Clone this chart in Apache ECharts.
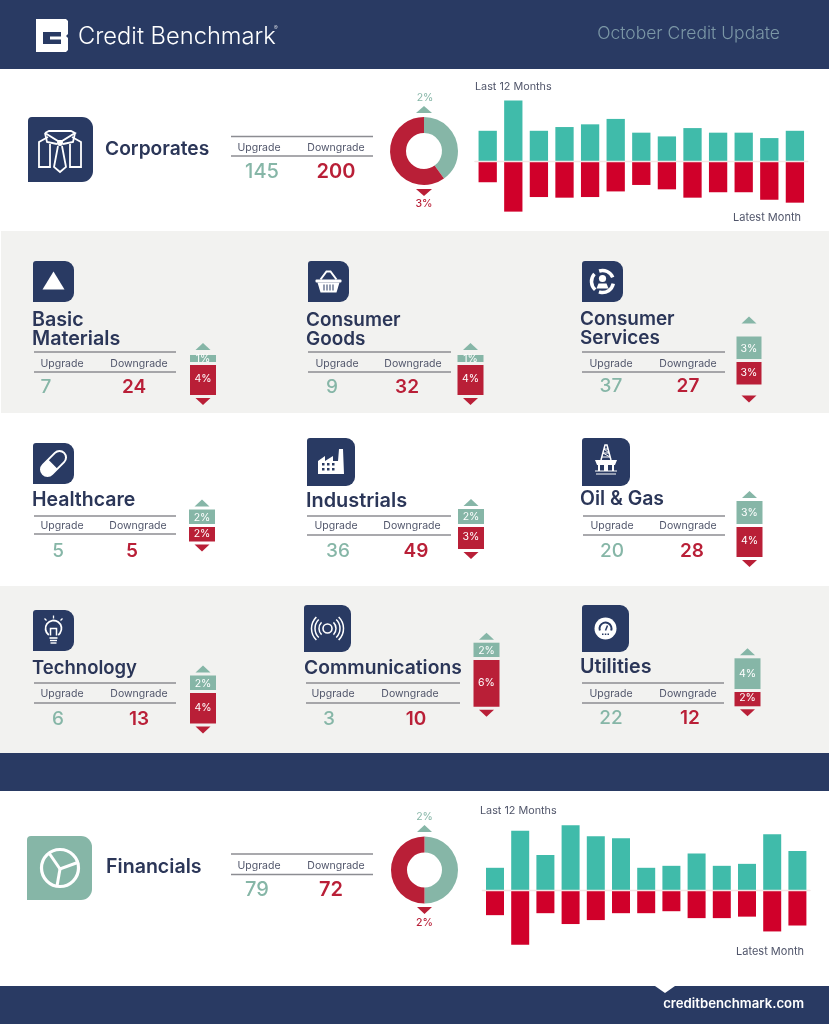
<!DOCTYPE html>
<html>
<head>
<meta charset="utf-8">
<style>
  html, body { margin: 0; padding: 0; background: #fff; }
  #main { width: 829px; height: 1024px; }
</style>
<script src="https://cdn.jsdelivr.net/npm/echarts@6/dist/echarts.min.js"></script>
</head>
<body>
<div id="main"></div>
<script>
// last 13 months, counts per month
var corpUp = [145, 290, 145, 163, 176, 202, 136, 118, 158, 136, 136, 110, 145];
var corpDown = [102, 243, 173, 176, 173, 146, 115, 136, 176, 150, 150, 186, 200];
var finUp = [45, 120, 71, 131, 109, 105, 45, 49, 74, 49, 53, 113, 79];
var finDown = [51, 111, 47, 69, 61, 47, 47, 43, 57, 57, 54, 84, 72];
var monthIdx = ['1', '2', '3', '4', '5', '6', '7', '8', '9', '10', '11', '12', '13'];

// donuts: [upgrade %, downgrade %]
var corpPct = [2, 3];
var finPct = [2, 2];
var corpCounts = [145, 200];
var finCounts = [79, 72];

var sectorNames = [['Basic', 'Materials'], ['Consumer', 'Goods'], ['Consumer', 'Services'],
  ['Healthcare'], ['Industrials'], ['Oil & Gas'],
  ['Technology'], ['Communications'], ['Utilities']];
var sectorUpCount = [7, 9, 37, 5, 36, 20, 6, 3, 22];
var sectorDownCount = [24, 32, 27, 5, 49, 28, 13, 10, 12];
var sectorUpPct = [1, 1, 3, 2, 2, 3, 2, 2, 4];
var sectorDownPct = [4, 4, 3, 2, 3, 4, 4, 6, 2];

var NAVY = '#293a63', TEAL = '#86b6a7', RED = '#b91f37', BAR_TEAL = '#40bbaa', BAR_RED = '#d0002a';
var GRAY = '#f2f2f0', RULE = '#8c8d92', INK = '#2b3658', LABEL = '#50556a';
var FONT = 'Inter';

// layout of each sector panel
var sectorLayout = [
  { icon: [33, 261, 41], title: [32, 319.5, 338.5], ts: 19.7, rules: [352, 372, 34, 176], lab: [62, 139, 362.5], val: [46, 134, 386], bar: [203, 363, 26], gaps: [5, 3], bg: GRAY, draw: iconTriangle },
  { icon: [308, 261, 41], title: [306, 319.5, 338.5], ts: 18.9, rules: [352, 372, 308, 451], lab: [337, 413, 362.5], val: [332, 407, 386], bar: [470.5, 363, 26], gaps: [5, 3], bg: GRAY, draw: iconBasket },
  { icon: [582, 261, 41], title: [580, 318.5, 337.5], ts: 18.9, rules: [352, 372, 582, 725], lab: [611, 688, 362.5], val: [611, 688, 385], bar: [749, 360.5, 25], gaps: [13, 11], bg: GRAY, draw: iconServices },
  { icon: [33, 443, 41], title: [32, 499.5], ts: 19.5, rules: [516, 534, 34, 176], lab: [62, 138, 525], val: [58, 132, 550], bar: [202, 525.5, 26], gaps: [3, 3], bg: '#fff', draw: iconPill },
  { icon: [307, 438, 48], title: [306, 500.5], ts: 19.9, rules: [516, 535, 307, 451], lab: [336, 412, 525], val: [338, 416, 550], bar: [471, 525, 26], gaps: [3, 3], bg: '#fff', draw: iconFactory },
  { icon: [582, 438, 48], title: [580, 498.5], ts: 19.4, rules: [516, 535, 583, 725], lab: [612, 688, 525], val: [612, 692, 550], bar: [749.5, 525, 26], gaps: [3, 3], bg: '#fff', draw: iconRig },
  { icon: [33, 610, 41], title: [32, 667.5], ts: 18.5, rules: [683, 703, 34, 176], lab: [62, 139, 693], val: [58, 139, 718], bar: [203, 691.5, 26], gaps: [3, 3], bg: GRAY, draw: iconBulb },
  { icon: [304, 605, 47], title: [304, 667.5], ts: 19.3, rules: [683, 703, 306, 460], lab: [333, 410, 693], val: [329, 416, 718], bar: [486.5, 658.7, 26], gaps: [3, 3], bg: GRAY, draw: iconSignal },
  { icon: [582, 605, 47], title: [580, 666.5], ts: 19.7, rules: [683, 703, 582, 724], lab: [611, 688, 693], val: [611, 690, 717], bar: [747.5, 690.3, 26], gaps: [3, 3], bg: GRAY, draw: iconGauge }
];

function txt(x, y, text, size, fill, weight, align) {
  return {
    type: 'text',
    style: {
      text: text, x: x, y: y + 1, fill: fill, fontFamily: FONT, fontSize: size,
      fontWeight: weight || 400, textAlign: align || 'left', textVerticalAlign: 'middle'
    }
  };
}
function box(x, y, w, h, fill, r) {
  return { type: 'rect', shape: { x: x, y: y, width: w, height: h, r: r || 0 }, style: { fill: fill } };
}
function poly(pts, fill) {
  return { type: 'polygon', shape: { points: pts }, style: { fill: fill || '#fff' } };
}
function strokeLine(pts, lw, color) {
  return { type: 'polyline', shape: { points: pts }, style: { stroke: color || '#fff', lineWidth: lw, fill: null } };
}
function disc(cx, cy, r, fill) {
  return { type: 'circle', shape: { cx: cx, cy: cy, r: r }, style: { fill: fill || '#fff' } };
}
function ring(cx, cy, r, lw, color) {
  return { type: 'circle', shape: { cx: cx, cy: cy, r: r }, style: { stroke: color || '#fff', lineWidth: lw, fill: null } };
}
function arc(cx, cy, r, a0, a1, lw, color) {
  return { type: 'arc', shape: { cx: cx, cy: cy, r: r, startAngle: a0, endAngle: a1, clockwise: true }, style: { stroke: color || '#fff', lineWidth: lw, fill: null } };
}
function group(x, y, children, rotation) {
  return { type: 'group', x: x, y: y, rotation: rotation || 0, children: children };
}

function iconShirt() {
  return [
    strokeLine([[-12, -13], [-21, -8], [-21, 17], [-10, 17], [-10, -6]], 1.8),
    strokeLine([[12, -13], [21, -8], [21, 17], [10, 17], [10, -6]], 1.8),
    strokeLine([[-15, -17], [-11, -19], [11, -19], [15, -17], [2, -9], [-2, -9], [-15, -17]], 1.8),
    strokeLine([[-15, -17], [-13, -8], [-3, -6]], 1.8),
    strokeLine([[15, -17], [13, -8], [3, -6]], 1.8),
    disc(0, -7, 3),
    strokeLine([[-2, -4], [-6, 17], [0, 22], [6, 17], [2, -4]], 1.8)
  ];
}
function iconTriangle() {
  return [poly([[0, -10], [11, 8], [-11, 8]])];
}
function iconBasket() {
  var bars = [];
  [-5, -2, 1, 4].forEach(function (x) { bars.push(box(x, 3, 1, 6, NAVY)); });
  return [
    strokeLine([[-8, -2], [-2, -10], [2, -10], [8, -2]], 2),
    box(-13, -2, 26, 3, '#fff', 1),
    poly([[-11, 1], [11, 1], [8, 11], [-8, 11]])
  ].concat(bars);
}
function iconServices() {
  return [
    arc(0, 0, 11, 0.2, 1.9, 3.5),
    arc(0, 0, 11, 2.3, 3.9, 3.5),
    arc(0, 0, 11, 4.4, 5.9, 3.5),
    disc(0, -3, 3.6),
    poly([[-6, 7], [-4, 2], [4, 2], [6, 7]])
  ];
}
function iconPill() {
  return [group(0, 0, [
    box(-15, -6.5, 30, 13, NAVY, 6.5),
    { type: 'rect', shape: { x: -15, y: -6.5, width: 30, height: 13, r: 6.5 }, style: { stroke: '#fff', lineWidth: 2, fill: null } },
    box(-15, -6.5, 14, 13, '#fff', [6.5, 0, 0, 6.5])
  ], Math.PI / 4)];
}
function iconFactory() {
  var w = [];
  [-9, -4, 1].forEach(function (x) {
    w.push(box(x, 1, 2.5, 2.5, NAVY));
    w.push(box(x, 6, 2.5, 2.5, NAVY));
  });
  return [poly([[-13, 12], [-13, -1], [-6, -6], [-6, -1], [2, -6], [2, -1], [7, -1], [8, -13], [12, -13], [13, 12]])].concat(w);
}
function iconRig() {
  return [
    strokeLine([[-5, -2], [-1, -17], [1, -17], [5, -2]], 1.5),
    strokeLine([[-4, -5], [4, -5], [-3, -9], [3, -9], [-2, -13], [2, -13]], 1),
    poly([[-11, -2], [11, -2], [9, 3], [-9, 3]]),
    box(-8, 3, 2, 6, '#fff'),
    box(6, 3, 2, 6, '#fff'),
    box(-2, 3, 4, 6, '#fff'),
    strokeLine([[-11, 9], [11, 9]], 1),
    strokeLine([[-10, 12], [10, 12]], 1)
  ];
}
function iconBulb() {
  return [
    arc(0, -2, 8, 2.2, 0.94, 1.8),
    strokeLine([[-3, 5], [-3, -2], [3, -2], [3, 5]], 1.5),
    strokeLine([[-4, 7.5], [4, 7.5]], 1.6),
    strokeLine([[-3.5, 10], [3.5, 10]], 1.4),
    strokeLine([[-3, 12.5], [3, 12.5]], 1.4),
    strokeLine([[0, -15], [0, -12]], 1.3),
    strokeLine([[-9, -12], [-7, -10]], 1.3),
    strokeLine([[9, -12], [7, -10]], 1.3)
  ];
}
function iconSignal() {
  var out = [ring(0, 0, 4.5, 1.6)];
  [8.5, 12.5, 16].forEach(function (r) {
    out.push(arc(0, 0, r, -0.8, 0.8, 1.5));
    out.push(arc(0, 0, r, 2.34, 3.94, 1.5));
  });
  return out;
}
function iconGauge() {
  return [
    disc(0, 0, 11),
    arc(0, 0, 6, 2.8, 0.34, 2, NAVY),
    strokeLine([[0, 2], [2, -3]], 1.5, NAVY),
    box(-3.5, 5, 1.5, 1.5, NAVY), box(-0.7, 5, 1.5, 1.5, NAVY), box(2, 5, 1.5, 1.5, NAVY)
  ];
}
function iconWheel() {
  return [
    ring(0, 0, 18.5, 3.2),
    strokeLine([[-11, -15], [0, 1], [19, -6]], 3),
    strokeLine([[0, 1], [-3, 18]], 3)
  ];
}

function statBlock(ruleY1, ruleY2, x0, x1, lab, val, up, down, fs) {
  return [
    { type: 'line', shape: { x1: x0, y1: ruleY1, x2: x1, y2: ruleY1 }, style: { stroke: RULE, lineWidth: 1.5 } },
    { type: 'line', shape: { x1: x0, y1: ruleY2, x2: x1, y2: ruleY2 }, style: { stroke: RULE, lineWidth: 1.5 } },
    txt(lab[0], lab[2], 'Upgrade', 10.5, LABEL, 400, 'center'),
    txt(lab[1], lab[2], 'Downgrade', 10.5, LABEL, 400, 'center'),
    txt(val[0], val[2], String(up), fs, TEAL, 500, 'center'),
    txt(val[1], val[2], String(down), fs, RED, 600, 'center')
  ];
}

var graphics = [
  box(0, 0, 829, 69, NAVY),
  box(1, 231, 828, 182, GRAY),
  box(0, 586, 829, 167, GRAY),
  box(0, 753, 829, 38, NAVY),
  box(0, 986, 829, 38, NAVY),
  poly([[655, 986], [675, 986], [665, 993]], '#fff'),

  // logo
  poly([[36, 19], [66, 19], [68, 21], [68, 34], [66, 36], [68, 38], [68, 50], [66, 52], [36, 52]], '#fff'),
  box(43, 32, 18, 12, NAVY),
  box(50, 36.5, 12, 3, '#fff'),
  txt(78, 35.5, 'Credit Benchmark', 23.7, '#fff', 300),
  txt(274, 27, '®', 5.5, '#fff', 300),
  txt(780, 32.5, 'October Credit Update', 17.5, '#7b97a6', 300, 'right'),
  txt(804, 1003.5, 'creditbenchmark.com', 13.2, '#fff', 600, 'right'),

  // corporates
  box(28, 117, 65, 65, NAVY, [4, 11, 11, 0]),
  group(60, 150, iconShirt()),
  txt(105, 148, 'Corporates', 19.2, INK, 600),
  txt(425, 97, corpPct[0] + '%', 10.5, TEAL, 400, 'center'),
  poly([[424, 106], [432, 113], [416, 113]], TEAL),
  poly([[416, 189], [432, 189], [424, 196]], RED),
  txt(424, 203, corpPct[1] + '%', 10.5, RED, 500, 'center'),
  txt(475, 85.5, 'Last 12 Months', 10.8, LABEL),
  txt(801, 216.5, 'Latest Month', 11, LABEL, 400, 'right'),

  // financials
  box(27, 836, 65, 64, TEAL, [4, 11, 11, 0]),
  group(60, 868, iconWheel()),
  txt(106, 866, 'Financials', 19.6, INK, 600),
  txt(424.5, 816, finPct[0] + '%', 10.5, TEAL, 400, 'center'),
  poly([[424.5, 825], [432, 832], [417, 832]], TEAL),
  poly([[417, 907], [432, 907], [424.5, 914]], RED),
  txt(424.5, 922, finPct[1] + '%', 10.5, RED, 500, 'center'),
  txt(480, 809.5, 'Last 12 Months', 10.8, LABEL),
  txt(804, 950.5, 'Latest Month', 11, LABEL, 400, 'right')
];
graphics = graphics.concat(
  statBlock(136.5, 156, 231, 373, [259, 336, 147], [262, 336, 171], corpCounts[0], corpCounts[1], 20),
  statBlock(854, 874.5, 231, 373, [259, 336, 865], [257, 331, 889], finCounts[0], finCounts[1], 20)
);

var grids = [], xAxes = [], yAxes = [], series = [];

function addGrid(left, top, width, height, cats, range, lineColor, lineWidth) {
  var idx = grids.length;
  grids.push({ left: left, top: top, width: width, height: height, containLabel: false });
  xAxes.push({
    gridIndex: idx, type: 'category', data: cats, z: 5,
    axisLine: { show: true, onZero: true, lineStyle: { color: lineColor, width: lineWidth } },
    axisTick: { show: false }, axisLabel: { show: false }, splitLine: { show: false }
  });
  yAxes.push({
    gridIndex: idx, type: 'value', min: -range, max: range, show: false, splitLine: { show: false }
  });
  return idx;
}
function neg(arr) {
  return arr.map(function (v) { return -v; });
}

// 13 month bars
function addMonthBars(left, top, width, height, range, barWidth, up, down, name) {
  var idx = addGrid(left, top, width, height, monthIdx, range, '#f1e6e4', 1.4);
  [[up, BAR_TEAL], [neg(down), BAR_RED]].forEach(function (s) {
    series.push({
      type: 'bar', name: name, xAxisIndex: idx, yAxisIndex: idx, stack: name,
      barWidth: barWidth, data: s[0], itemStyle: { color: s[1] }, silent: true
    });
  });
}
addMonthBars(474.9, 98.5, 332.8, 125, 300, 18.3, corpUp, corpDown, 'corp');
addMonthBars(482.4, 816, 327.6, 148, 150, 18, finUp, finDown, 'fin');

// upgrade / downgrade donuts
function addDonut(center, radius, pct) {
  series.push({
    type: 'pie', center: center, radius: radius, silent: true,
    startAngle: 90, clockwise: true, label: { show: false }, labelLine: { show: false },
    data: [
      { value: pct[0], name: 'Upgrade', itemStyle: { color: TEAL } },
      { value: pct[1], name: 'Downgrade', itemStyle: { color: RED } }
    ]
  });
}
addDonut([424, 151], [18, 34], corpPct);
addDonut([424.5, 870], [17.5, 33.5], finPct);

// 8px per percent point, range +-8
var SECTOR_RANGE = 8, SECTOR_H = 128;

sectorNames.forEach(function (lines, i) {
  var lay = sectorLayout[i];
  var icon = lay.icon;
  graphics.push(box(icon[0], icon[1], icon[2], icon[2], NAVY, [3, 9, 9, 0]));
  graphics.push(group(icon[0] + icon[2] / 2, icon[1] + icon[2] / 2, lay.draw()));
  lines.forEach(function (t, j) {
    graphics.push(txt(lay.title[0], lay.title[j + 1], t, lay.ts, INK, 600));
  });
  graphics = graphics.concat(statBlock(lay.rules[0], lay.rules[1], lay.rules[2], lay.rules[3],
    lay.lab, lay.val, sectorUpCount[i], sectorDownCount[i], 19));

  var bw = lay.bar[2];
  var idx = addGrid(lay.bar[0] - bw / 2, lay.bar[1] - SECTOR_H / 2, bw, SECTOR_H, [sectorNames[i].join(' ')], SECTOR_RANGE, lay.bg, 3);
  var up = sectorUpPct[i], down = sectorDownPct[i];
  var fmt = function (p) { return Math.abs(p.value) + '%'; };
  [[up, TEAL], [-down, RED]].forEach(function (s) {
    series.push({
      type: 'bar', xAxisIndex: idx, yAxisIndex: idx, stack: 's' + i, barWidth: bw, silent: true,
      data: [s[0]], itemStyle: { color: s[1] },
      label: { show: true, position: 'inside', formatter: fmt, color: '#fff', fontFamily: FONT, fontSize: 10.5 }
    });
  });
  series.push({
    type: 'scatter', xAxisIndex: idx, yAxisIndex: idx, silent: true, symbol: 'triangle',
    symbolSize: [15, 7], symbolOffset: [0, -(lay.gaps[0] + 3.5)], data: [up], itemStyle: { color: TEAL, opacity: 1 }
  });
  series.push({
    type: 'scatter', xAxisIndex: idx, yAxisIndex: idx, silent: true, symbol: 'triangle',
    symbolSize: [15, 7], symbolRotate: 180, symbolOffset: [0, lay.gaps[1] + 3.5], data: [-down], itemStyle: { color: RED, opacity: 1 }
  });
});

var chart = echarts.init(document.getElementById('main'));
chart.setOption({
  animation: false,
  backgroundColor: '#fff',
  tooltip: { show: false },
  graphic: { elements: graphics },
  grid: grids,
  xAxis: xAxes,
  yAxis: yAxes,
  series: series
});
</script>
</body>
</html>
